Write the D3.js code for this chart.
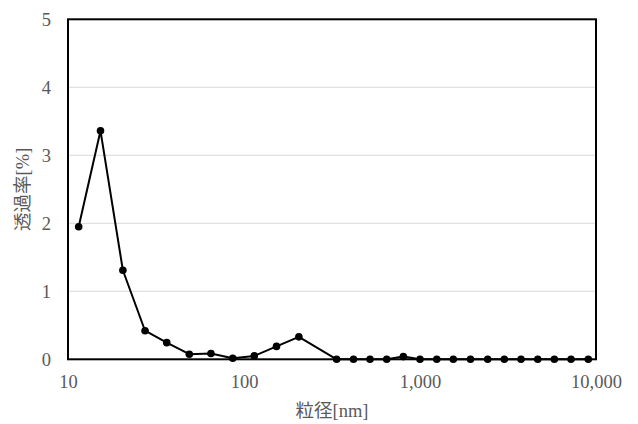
<!DOCTYPE html>
<html>
<head>
<meta charset="utf-8">
<script src="https://cdn.jsdelivr.net/npm/d3@7"></script>
<style>
  body { margin: 0; background: #fff; }
  .tick text { font-family: "Liberation Serif", "Times New Roman", serif; font-size: 18.5px; fill: #595959; }
  .title { font-family: "Liberation Serif", "Noto Sans CJK JP", serif; font-size: 18.5px; fill: #595959; }
</style>
</head>
<body>
<div id="holder"></div>
<script>
var width = 638;
var height = 424;
var margin = {left: 68, right: 42, top: 19.3, bottom: 64.7};

// particle size [nm]
var sizes = [11.5, 15.3, 20.5, 27.4, 36.4, 48.9, 64.9, 86.3, 114.4, 153, 205,
  336, 419, 520, 647, 804, 1000, 1245, 1546, 1936, 2425, 3013, 3750, 4667, 5800, 7214, 9040];
// transmittance [%]
var rates = [1.95, 3.36, 1.31, 0.42, 0.245, 0.075, 0.085, 0.015, 0.05, 0.19, 0.33,
  0, 0, 0, 0, 0.04, 0, 0, 0, 0, 0, 0, 0, 0, 0, 0, 0];
var xTicks = [10, 100, 1000, 10000];
var yTicks = [0, 1, 2, 3, 4, 5];

var x = d3.scaleLog().domain([10, 10000]).range([margin.left, width - margin.right]);
var y = d3.scaleLinear().domain([0, 5]).range([height - margin.bottom, margin.top]);

var svg = d3.select("#holder")
  .append("svg")
  .attr("width", width)
  .attr("height", height);

// gridlines
svg.append("g")
  .selectAll("line")
  .data(yTicks.filter(d => d > 0 && d < 5))
  .enter().append("line")
  .attr("x1", x(10))
  .attr("x2", x(10000))
  .attr("y1", d => y(d))
  .attr("y2", d => y(d))
  .attr("stroke", "#d9d9d9")
  .attr("stroke-width", 1);

// frame
svg.append("rect")
  .attr("x", x(10))
  .attr("y", y(5))
  .attr("width", x(10000) - x(10))
  .attr("height", y(0) - y(5))
  .attr("fill", "none")
  .attr("stroke", "#000")
  .attr("stroke-width", 2);

var xAxis = svg.append("g")
  .attr("transform", "translate(0," + y(0) + ")")
  .call(d3.axisBottom(x).tickValues(xTicks).tickFormat(d3.format(",")).tickSize(0).tickPadding(16));
xAxis.select(".domain").remove();

var yAxis = svg.append("g")
  .attr("transform", "translate(" + x(10) + ",0)")
  .call(d3.axisLeft(y).tickValues(yTicks).tickFormat(d3.format("d")).tickSize(0).tickPadding(17));
yAxis.select(".domain").remove();

// series
var line = d3.line()
  .x((d, i) => x(sizes[i]))
  .y(d => y(d));

svg.append("path")
  .datum(rates)
  .attr("d", line)
  .attr("fill", "none")
  .attr("stroke", "#000")
  .attr("stroke-width", 2)
  .attr("stroke-linejoin", "round");

svg.append("g")
  .selectAll("circle")
  .data(rates)
  .enter().append("circle")
  .attr("cx", (d, i) => x(sizes[i]))
  .attr("cy", d => y(d))
  .attr("r", 3.8)
  .attr("fill", "#000");

// axis titles
svg.append("text")
  .attr("class", "title")
  .attr("x", (x(10) + x(10000)) / 2)
  .attr("y", 417)
  .attr("text-anchor", "middle")
  .html('<tspan font-family="Noto Sans CJK JP">粒径</tspan>[nm]');

svg.append("text")
  .attr("class", "title")
  .attr("transform", "translate(29," + (y(0) + y(5)) / 2 + ") rotate(-90)")
  .attr("text-anchor", "middle")
  .html('<tspan font-family="Noto Sans CJK JP">透過率</tspan>[%]');
</script>
</body>
</html>
